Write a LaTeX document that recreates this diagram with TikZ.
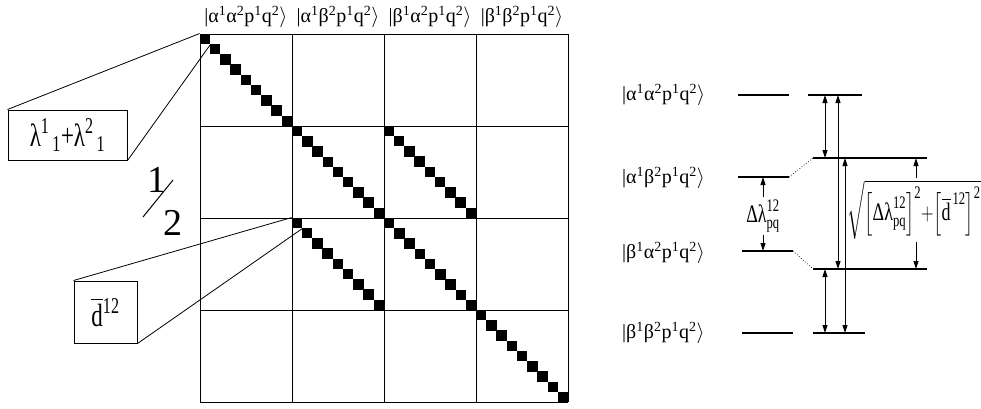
\documentclass[tikz,border=0pt]{standalone}
\usepackage{fontspec}
\setmainfont{Liberation Serif}
\usepackage{amsmath}
\usepackage{graphicx}
\usepackage{tikz}
\usetikzlibrary{arrows.meta, positioning}

\newcommand{\kt}[2]{|#1\textsuperscript{1}#2\textsuperscript{2}p\textsuperscript{1}q\textsuperscript{2}$\rangle$}
\newcommand{\vstretch}[1]{\scalebox{1}[1.4]{#1}}

\begin{document}
\begin{tikzpicture}[
    x=1pt, y=-1pt,
    >={Triangle[length=8pt,width=5pt]},
    ketlabel/.style={inner sep=1pt, font=\fontsize{20}{24}\selectfont},
    blk/.style={fill=black, minimum size=10.5pt, inner sep=0pt},
    callout/.style={draw, fill=white, line width=1pt, inner sep=0pt, font=\fontsize{23}{27}\selectfont},
    level/.style={line width=1.1pt},
    link/.style={line width=0.7pt, dotted},
    gap/.style={<->, line width=0.9pt},
    half/.style={inner sep=0pt, font=\fontsize{38}{44}\selectfont},
    formula/.style={inner sep=2pt, font=\fontsize{18}{22}\selectfont}
]
\useasboundingbox (0,0) rectangle (981,408);

\foreach \i in {0,...,4} {
  \draw[line width=1pt] (200+92*\i,34) -- (200+92*\i,402);
  \draw[line width=1pt] (200,34+92*\i) -- (568,34+92*\i);
}
\foreach \k in {0,...,35}
  \node[blk] (m\k) at (205+10.23*\k, 39+10.23*\k) {};
\foreach \k in {0,...,8} {
  \node[blk] (u\k) at (389+10.23*\k, 131+10.23*\k) {};
  \node[blk] (l\k) at (297+10.23*\k, 223+10.23*\k) {};
}

\node[ketlabel] (top-aa) at (246,17) {\kt{α}{α}};
\node[ketlabel] (top-ab) at (338,17) {\kt{α}{β}};
\node[ketlabel] (top-ba) at (430,17) {\kt{β}{α}};
\node[ketlabel] (top-bb) at (522,17) {\kt{β}{β}};

\node[callout, minimum width=119pt, minimum height=50pt] (lam) at (67.5,135)
  {\vstretch{λ\textsuperscript{1}\kern3pt\textsubscript{1}+λ\textsuperscript{2}\kern3pt\textsubscript{1}}};
\draw[line width=0.8pt] (lam.north west) -- (m0.north west);
\draw[line width=0.8pt] (lam.south east) -- (m0.south east);

\node[callout, minimum width=63pt, minimum height=62pt] (dbar) at (105.5,312)
  {\vstretch{$\overline{\text{d}}$\textsuperscript{12}}};
\draw[line width=0.8pt] (dbar.north west) -- (l0.north west);
\draw[line width=0.8pt] (dbar.south east) -- (l0.south east);

\node[half] (one) at (157,180) {1};
\node[half] (two) at (172.5,223) {2};
\draw[line width=1pt] (143,217) -- (173,180);

\node[ketlabel, anchor=west] (r-aa) at (621,95) {\kt{α}{α}};
\node[ketlabel, anchor=west] (r-ab) at (621,178) {\kt{α}{β}};
\node[ketlabel, anchor=west] (r-ba) at (621,253) {\kt{β}{α}};
\node[ketlabel, anchor=west] (r-bb) at (621,333) {\kt{β}{β}};

\draw[level] (738,95) coordinate (s1) -- (789,95) coordinate (s1e);
\draw[level] (738,177) coordinate (s2) -- (789,177) coordinate (s2e);
\draw[level] (742,251) coordinate (s3) -- (793,251) coordinate (s3e);
\draw[level] (742,333) coordinate (s4) -- (793,333) coordinate (s4e);
\draw[level] (808,95) coordinate (e1) -- (862,95) coordinate (e1e);
\draw[level] (813,158) coordinate (e2) -- (927,158) coordinate (e2e);
\draw[level] (813,269) coordinate (e3) -- (927,269) coordinate (e3e);
\draw[level] (813,333) coordinate (e4) -- (865,333) coordinate (e4e);
\draw[link] (s2e) -- (e2);
\draw[link] (s3e) -- (e3);

\coordinate (c1) at (825,0);
\coordinate (c2) at (838,0);
\coordinate (c3) at (845,0);
\draw[gap] (c1 |- e1) -- (c1 |- e2);
\draw[gap] (c1 |- e3) -- (c1 |- e4);
\draw[gap] (c2 |- e1) -- (c2 |- e3);
\draw[gap] (c3 |- e2) -- (c3 |- e4);

\node[formula] (dl) at (763,216) {\vstretch{$\text{Δλ}^{\text{12}}_{\text{pq}}$}};
\draw[->, line width=0.9pt] (dl.north) -- (dl.north |- s2);
\draw[->, line width=0.9pt] (dl.south) -- (dl.south |- s3);

\node[formula] (rt) at (914,210)
  {\vstretch{$\sqrt{\left[\text{Δλ}^{\text{12}}_{\text{pq}}\right]^{\text{2}}\!{+}\!\left[\overline{\text{d}}^{\,\text{12}}\right]^{\text{2}}}$}};
\draw[->, line width=0.9pt] (rt.north -| e2e) ++(-11,0) coordinate (rtop) -- (rtop |- e2);
\draw[->, line width=0.9pt] (rt.south -| e2e) ++(-11,0) coordinate (rbot) -- (rbot |- e3);
\end{tikzpicture}
\end{document}
